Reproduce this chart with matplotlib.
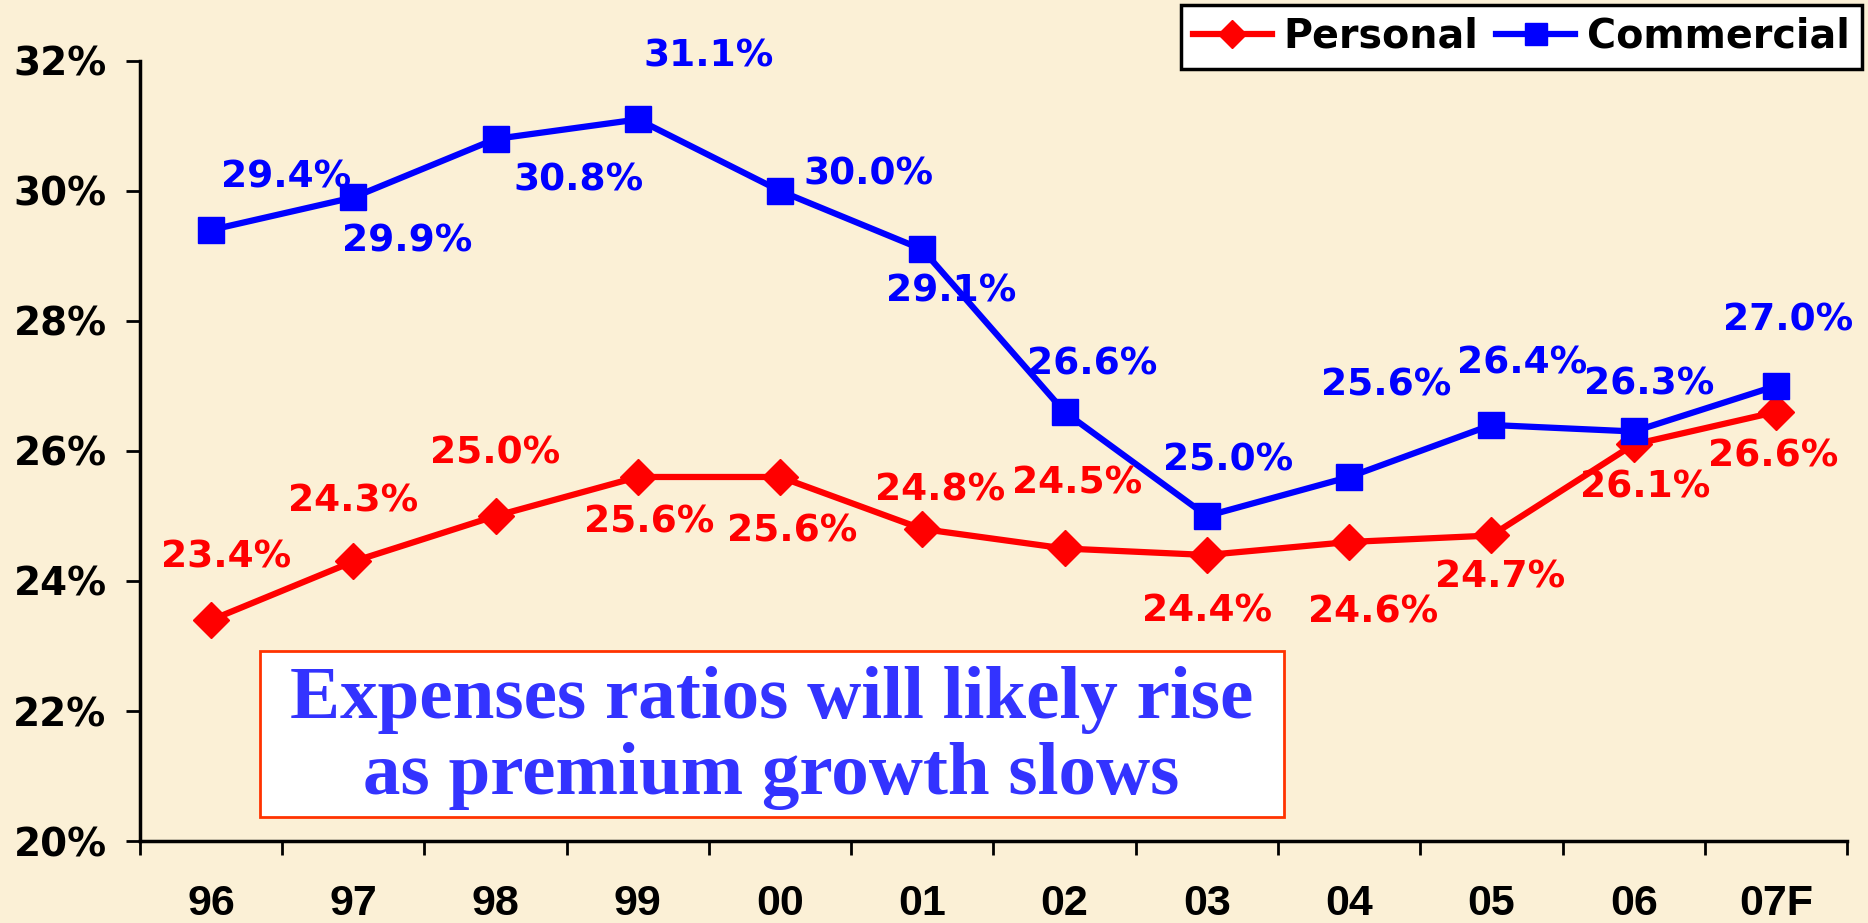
import matplotlib.pyplot as plt
from matplotlib.patches import Rectangle
from matplotlib.ticker import FixedLocator

# data
years = ['96', '97', '98', '99', '00', '01', '02', '03', '04', '05', '06', '07F']
personal = [23.4, 24.3, 25.0, 25.6, 25.6, 24.8, 24.5, 24.4, 24.6, 24.7, 26.1, 26.6]
commercial = [29.4, 29.9, 30.8, 31.1, 30.0, 29.1, 26.6, 25.0, 25.6, 26.4, 26.3, 27.0]

# label offsets in points (layout only)
personal_off = [(11, 45), (0, 43), (0, 45), (8, -33), (9, -39), (13, 28),
                (9, 47), (0, -41), (17, -51), (6, -30), (8, -31), (-2, -32)]
commercial_off = [(54, 38), (39, -32), (60, -30), (51, 45), (64, 12), (21, -30),
                  (20, 34), (15, 40), (27, 66), (22, 44), (11, 34), (9, 47)]

bg = '#FBF0D6'
red = '#FF0000'
blue = '#0000FF'

plt.rcParams['font.family'] = ['DejaVu Sans']
plt.rcParams['font.weight'] = 'bold'

fig = plt.figure(figsize=(18.68, 9.23), dpi=100, facecolor=bg)
ax = fig.add_axes([0.0749, 0.0888, 0.9139, 0.8452])
ax.set_facecolor(bg)

x = list(range(len(years)))
ax.plot(x, personal, color=red, lw=4.5, marker='D', ms=18, label='Personal', zorder=3)
ax.plot(x, commercial, color=blue, lw=4.5, marker='s', ms=19, label='Commercial', zorder=4)

for i in x:
    ax.annotate('{:.1f}%'.format(personal[i]), (i, personal[i]), xytext=personal_off[i],
                textcoords='offset points', ha='center', va='center',
                color=red, fontsize=27, fontweight='bold', zorder=6)
    ax.annotate('{:.1f}%'.format(commercial[i]), (i, commercial[i]), xytext=commercial_off[i],
                textcoords='offset points', ha='center', va='center',
                color=blue, fontsize=27, fontweight='bold', zorder=6)

ax.set_xlim(-0.5, len(years) - 0.5)
ax.set_ylim(20, 32)
ax.set_yticks([20, 22, 24, 26, 28, 30, 32])
ax.set_yticklabels(['{}%'.format(v) for v in [20, 22, 24, 26, 28, 30, 32]])
ax.set_xticks(x)
ax.set_xticklabels(years, family=['Liberation Sans Narrow', 'Liberation Sans'],
                   fontsize=31, fontweight='bold')
ax.xaxis.set_minor_locator(FixedLocator([i + 0.5 for i in range(-1, len(years))]))
ax.tick_params(axis='x', which='major', length=0, pad=31)
ax.tick_params(axis='x', which='minor', length=10, width=2, direction='out')
ax.tick_params(axis='y', length=10, width=2, pad=14, labelsize=28)

for s in ['top', 'right']:
    ax.spines[s].set_visible(False)
for s in ['left', 'bottom']:
    ax.spines[s].set_linewidth(2.5)

# callout box
ax.add_patch(Rectangle((0.0703, 0.0308), 0.600, 0.213, transform=ax.transAxes,
                       facecolor='white', edgecolor='#FF3300', lw=2, zorder=5))
ax.text(0.370, 0.181, 'Expenses ratios will likely rise', transform=ax.transAxes,
        ha='center', va='center', color='#3333FF', fontsize=54, fontweight='bold',
        family='Liberation Serif', zorder=6)
ax.text(0.370, 0.084, 'as premium growth slows', transform=ax.transAxes,
        ha='center', va='center', color='#3333FF', fontsize=54, fontweight='bold',
        family='Liberation Serif', zorder=6)

leg = fig.legend(loc='upper right', ncol=2,
                 bbox_to_anchor=(0.9968, 0.9946), borderaxespad=0,
                 fontsize=28.5, frameon=True, fancybox=False, edgecolor='black',
                 handlelength=2.0, handletextpad=0.3, columnspacing=0.45,
                 borderpad=0.3, markerscale=0.8)
leg.get_frame().set_linewidth(2.5)
leg.get_frame().set_facecolor('white')
leg.get_frame().set_alpha(1)

fig.savefig('out.png', dpi=100, facecolor=bg)
